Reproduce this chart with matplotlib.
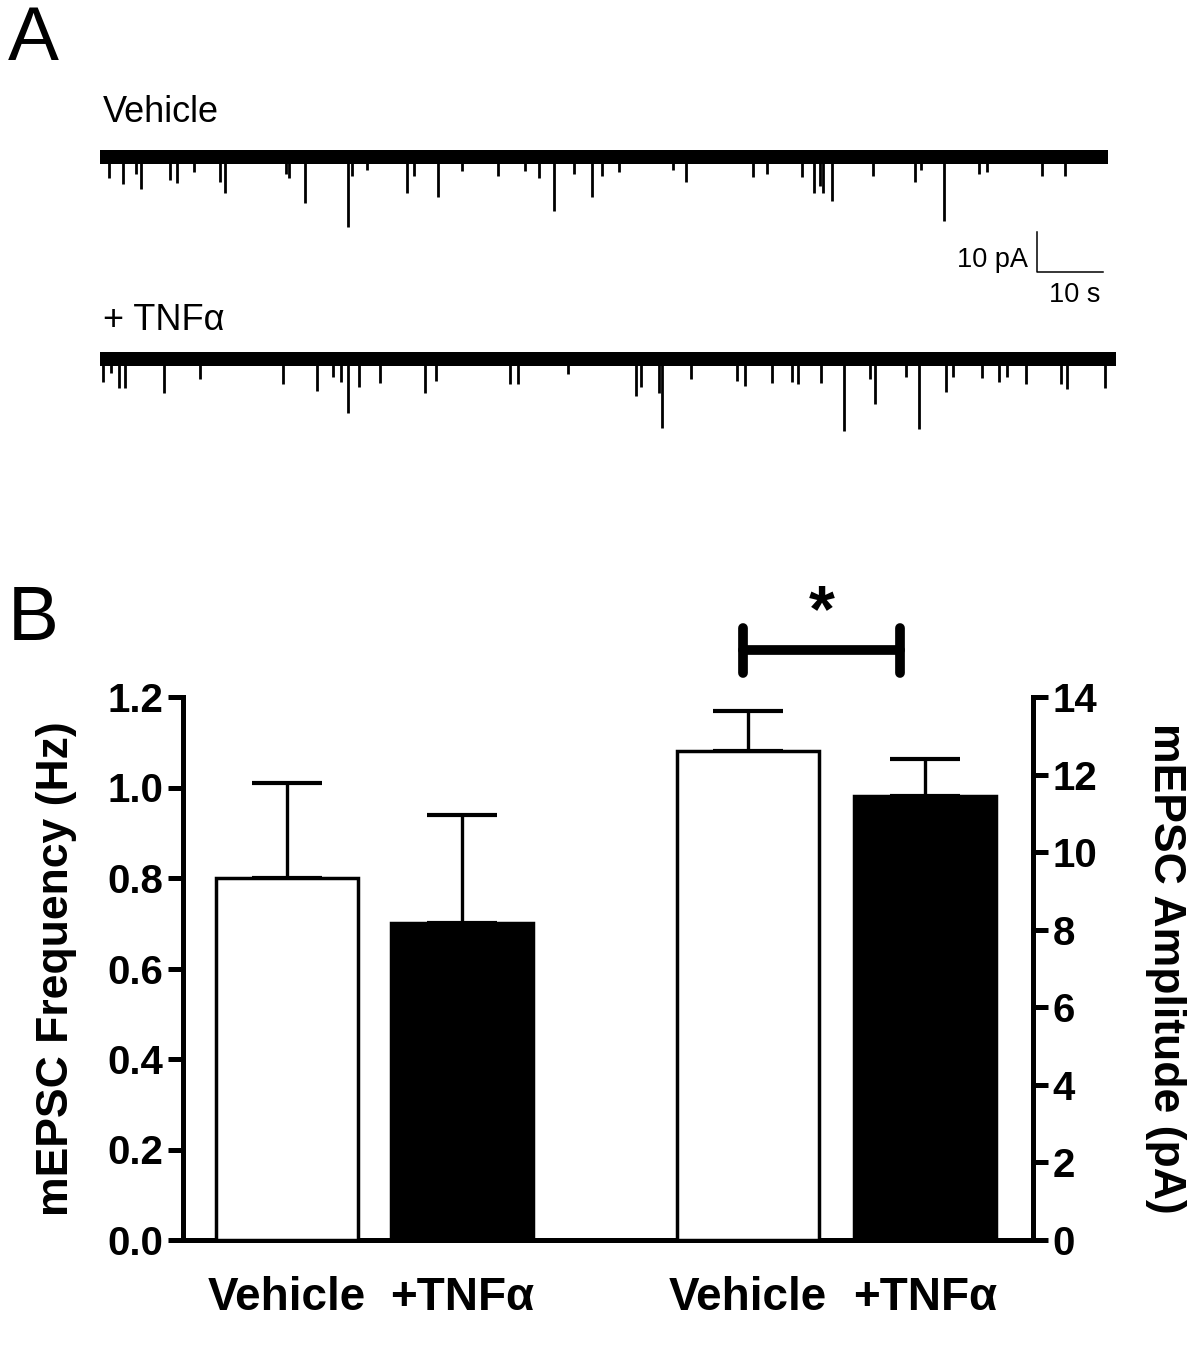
import numpy as np
from matplotlib import pyplot as plt

plt.rcParams['font.family'] = ['Liberation Sans', 'DejaVu Sans']

# ---- panel A: mEPSC traces (spike times in s, amplitudes in pA) ----
veh_t = [1.4, 3.5, 5.5, 6.2, 10.6, 11.7, 14.2, 18.2, 18.9, 28.2, 28.6, 31.1, 37.6, 38.2,
         40.5, 46.5, 47.6, 51.2, 54.8, 60.3, 64.4, 66.5, 68.8, 71.8, 74.5, 76.1, 78.6,
         86.8, 88.8, 98.9, 101.1, 106.4, 108.2, 109.1, 109.5, 110.9, 117.1, 123.5, 124.4,
         127.9, 133.2, 134.4, 142.7, 146.2]
veh_a = [5.3, 6.8, 4.3, 8.0, 5.8, 6.5, 3.8, 6.3, 9.0, 4.3, 5.3, 11.5, 17.5, 4.8,
         3.3, 9.0, 4.8, 10.0, 3.5, 4.8, 3.5, 5.3, 13.5, 4.3, 10.0, 4.8, 3.8,
         3.3, 6.3, 5.0, 4.3, 5.0, 9.0, 7.3, 9.0, 11.0, 4.8, 6.3, 3.3,
         16.0, 4.3, 3.8, 4.8, 4.8]
veh_end = 152.7

tnf_t = [0.5, 1.7, 2.9, 3.8, 9.7, 15.2, 27.7, 32.9, 35.3, 36.5, 37.6, 39.2, 42.4, 49.2,
         50.9, 62.1, 63.3, 70.9, 81.2, 82.0, 84.7, 85.2, 89.5, 96.5, 97.7, 101.8, 104.8,
         105.8, 109.2, 112.7, 116.7, 117.4, 122.1, 124.1, 128.2, 129.2, 133.6, 136.2,
         137.4, 140.3, 145.5, 146.5, 152.3]
tnf_a = [5.8, 3.5, 7.3, 7.3, 8.5, 5.0, 6.3, 8.0, 4.5, 5.8, 13.5, 7.0, 6.0, 8.5,
         5.5, 6.3, 6.3, 3.8, 9.3, 7.0, 8.5, 17.3, 5.0, 5.5, 6.8, 6.0, 5.8,
         6.3, 6.0, 18.0, 5.0, 11.3, 4.5, 17.5, 8.3, 4.5, 4.8, 5.8,
         4.5, 6.3, 6.3, 7.5, 7.3]
tnf_end = 153.9
tnf_offset = -50.5
noise = 1.7

# ---- panel B: bar data ----
freq_labels = ['Vehicle', '+TNFα']
freq_mean = [0.80, 0.70]
freq_sem = [0.21, 0.24]
amp_labels = ['Vehicle', '+TNFα']
amp_mean = [12.6, 11.45]
amp_sem = [1.05, 0.95]

fig = plt.figure(figsize=(12, 13.58), dpi=100)
W, H = 1200., 1358.

# ---------------- panel A ----------------
axA = fig.add_axes([100/W, (H-450)/H, 1020/W, 370/H])
axA.set_xlim(0, 154.5)
axA.set_ylim(-73.25, 19.25)
axA.axis('off')
for t, a, off, end in [(veh_t, veh_a, 0, veh_end), (tnf_t, tnf_a, tnf_offset, tnf_end)]:
  axA.fill_between([0, end], off - noise, off + noise, color='k', lw=0)
  axA.vlines(t, off - np.array(a), off, color='k', lw=2.0)
# scale bar
axA.plot([142.0, 142.0, 152.0], [-18.75, -28.75, -28.75], color='k', lw=1.1)
axA.text(140.6, -27.5, '10 pA', ha='right', va='baseline', fontsize=19.5)
axA.text(147.7, -36.25, '10 s', ha='center', va='baseline', fontsize=19.5)
axA.text(0.45, 8.75, 'Vehicle', ha='left', va='baseline', fontsize=26)
axA.text(0.45, tnf_offset + 7.25, '+ TNFα', ha='left', va='baseline', fontsize=26)

fig.text(8/W, (H-60)/H, 'A', fontsize=55, va='baseline', ha='left')
fig.text(8/W, (H-640)/H, 'B', fontsize=55, va='baseline', ha='left')

# ---------------- panel B ----------------
ax = fig.add_axes([183/W, (H-1240)/H, 850/W, 543/H])
ax2 = ax.twinx()
pos_f = [1.04, 2.79]
pos_a = [5.65, 7.42]
colors = ['white', 'black']
lw = 3.6
ax.bar(pos_f, freq_mean, width=1.42, color=colors, edgecolor='k', linewidth=2.5, zorder=3)
ax.errorbar(pos_f, freq_mean, yerr=[[0, 0], freq_sem], fmt='none', ecolor='k',
            elinewidth=2.4, capsize=25, capthick=3.0, zorder=2)
ax2.bar(pos_a, amp_mean, width=1.42, color=colors, edgecolor='k', linewidth=2.5, zorder=3)
ax2.errorbar(pos_a, amp_mean, yerr=[[0, 0], amp_sem], fmt='none', ecolor='k',
             elinewidth=2.4, capsize=25, capthick=3.0, zorder=2)

ax.set_xlim(0, 8.5)
ax.set_ylim(0, 1.2)
ax2.set_ylim(0, 14)
ax.set_yticks(np.arange(0, 1.21, 0.2))
ax.set_yticklabels(['%.1f' % v for v in np.arange(0, 1.21, 0.2)])
ax2.set_yticks(np.arange(0, 15, 2))
ax.set_xticks(pos_f + pos_a)
ax.set_xticklabels(freq_labels + amp_labels, fontsize=33, fontweight='bold')
ax.tick_params(axis='x', length=0, pad=26)

for a in (ax, ax2):
  a.spines['top'].set_visible(False)
  for s in ['left', 'right', 'bottom']:
    a.spines[s].set_linewidth(lw)
  a.tick_params(axis='y', length=11, width=lw, labelsize=29, pad=3)
  for lab in a.get_yticklabels():
    lab.set_fontweight('bold')
ax.spines['right'].set_visible(False)
ax2.spines['left'].set_visible(False)
ax2.spines['bottom'].set_visible(False)

ax.set_ylabel('mEPSC Frequency (Hz)', fontsize=32, fontweight='bold', labelpad=22)
ax2.set_ylabel('mEPSC Amplitude (pA)', fontsize=32, fontweight='bold', rotation=270,
               labelpad=64)

# significance bracket
ax2.plot([5.60, 7.17], [15.2, 15.2], color='k', lw=7, solid_capstyle='round', clip_on=False)
ax2.plot([5.60, 5.60], [14.61, 15.77], color='k', lw=7, solid_capstyle='round', clip_on=False)
ax2.plot([7.17, 7.17], [14.61, 15.77], color='k', lw=7, solid_capstyle='round', clip_on=False)
ax2.text(6.39, 16.15, '*', ha='center', va='center', fontsize=48, fontweight='bold')

plt.savefig('out.png', dpi=100)
